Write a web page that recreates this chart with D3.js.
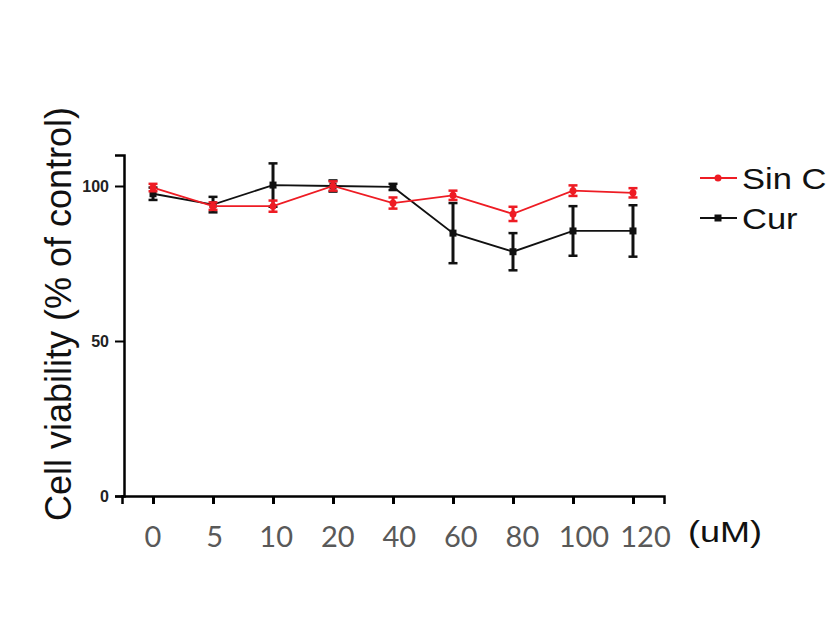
<!DOCTYPE html>
<html>
<head>
<meta charset="utf-8">
<script src="https://cdn.jsdelivr.net/npm/d3@7"></script>
<style>
  body { margin: 0; background: #fff; }
  #chart-container { width: 830px; height: 623px; }
</style>
</head>
<body>
<div id="chart-container"></div>
<script>
const doses = ['0', '5', '10', '20', '40', '60', '80', '100', '120'];
const sinC = [99.5, 93.5, 93.5, 100, 94.5, 97, 91, 98.5, 97.8];
const sinCErr = [1.2, 1.2, 1.8, 1.5, 1.8, 1.5, 2.3, 1.7, 1.5];
const cur = [97.5, 94, 100.3, 100, 99.7, 84.8, 78.8, 85.5, 85.5];
const curErr = [2, 2.5, 7, 1.8, 1, 9.7, 6, 8, 8.3];
const seriesNames = ['Sin C', 'Cur'];
const yTicks = [0, 50, 100];

const series = [
    { name: seriesNames[0], values: sinC, errs: sinCErr, color: '#ee1c24', marker: 'circle' },
    { name: seriesNames[1], values: cur, errs: curErr, color: '#111111', marker: 'square' }
];

const svg = d3.select('#chart-container')
    .append('svg')
    .attr('width', 830)
    .attr('height', 623);

const xScale = d3.scalePoint()
    .domain(doses)
    .range([122, 664])
    .padding(0.517);

// tick labels in the original sit on a slightly wider spacing than the ticks
const labelScale = d3.scalePoint()
    .domain(doses)
    .range([152.5, 645]);

const yScale = d3.scaleLinear()
    .domain([0, 110])
    .range([496, 155]);

// axes
const xAxis = svg.append('g')
    .attr('transform', 'translate(0,496)')
    .call(d3.axisBottom(xScale).tickSizeOuter(0).tickSize(8).tickPadding(22));
xAxis.select('.domain').attr('stroke', '#000').attr('stroke-width', 2.5);
xAxis.selectAll('.tick line').attr('stroke', '#000').attr('stroke-width', 3);
xAxis.selectAll('.tick text')
    .attr('x', d => labelScale(d) - xScale(d))
    .attr('fill', '#595959')
    .style('font-family', 'Lato, "Open Sans", sans-serif')
    .style('font-size', '29px');

const yAxis = svg.append('g')
    .attr('transform', 'translate(124,0)')
    .call(d3.axisLeft(yScale).tickValues(yTicks).tickSizeOuter(0).tickSize(9).tickPadding(6));
yAxis.select('.domain').attr('stroke', '#000').attr('stroke-width', 2.5);
yAxis.selectAll('.tick line').attr('stroke', '#000').attr('stroke-width', 2);
yAxis.selectAll('.tick text')
    .attr('fill', '#222')
    .style('font-family', '"Liberation Sans", Arial, sans-serif')
    .style('font-weight', 'bold')
    .style('font-size', '16px');

// axis titles
svg.append('text')
    .attr('transform', 'translate(71,314) rotate(-90)')
    .attr('text-anchor', 'middle')
    .style('font-family', '"Liberation Sans", Arial, sans-serif')
    .style('font-size', '36px')
    .attr('fill', '#111')
    .text('Cell viability (% of control)');

svg.append('text')
    .attr('transform', 'translate(688,542) scale(1.2,1)')
    .style('font-family', '"Liberation Sans", Arial, sans-serif')
    .style('font-size', '30px')
    .attr('fill', '#111')
    .text('(uM)');

// series
const line = d3.line()
    .x((d, i) => xScale(doses[i]))
    .y(d => yScale(d));

// draw Cur first then Sin C on top
[series[1], series[0]].forEach(s => {
    const g = svg.append('g');
    g.append('path')
        .datum(s.values)
        .attr('fill', 'none')
        .attr('stroke', s.color)
        .attr('stroke-width', 1.8)
        .attr('d', line);

    const eb = g.selectAll('.eb')
        .data(s.values.map((v, i) => ({ x: doses[i], v: v, e: s.errs[i] })))
        .enter()
        .append('g');
    eb.append('line')
        .attr('x1', d => xScale(d.x))
        .attr('x2', d => xScale(d.x))
        .attr('y1', d => yScale(d.v - d.e))
        .attr('y2', d => yScale(d.v + d.e))
        .attr('stroke', s.color)
        .attr('stroke-width', 3);
    [-1, 1].forEach(sign => {
        eb.append('line')
            .attr('x1', d => xScale(d.x) - 4.5)
            .attr('x2', d => xScale(d.x) + 4.5)
            .attr('y1', d => yScale(d.v + sign * d.e))
            .attr('y2', d => yScale(d.v + sign * d.e))
            .attr('stroke', s.color)
            .attr('stroke-width', 2.5);
    });
    if (s.marker === 'circle') {
        eb.append('circle')
            .attr('cx', d => xScale(d.x))
            .attr('cy', d => yScale(d.v))
            .attr('r', 3.5)
            .attr('fill', s.color);
    } else {
        eb.append('rect')
            .attr('x', d => xScale(d.x) - 3.5)
            .attr('y', d => yScale(d.v) - 3.5)
            .attr('width', 7)
            .attr('height', 7)
            .attr('fill', s.color);
    }
});

// legend
const legend = svg.append('g');
series.forEach((s, i) => {
    const y = 178 + i * 40;
    legend.append('line')
        .attr('x1', 700).attr('x2', 737)
        .attr('y1', y).attr('y2', y)
        .attr('stroke', s.color)
        .attr('stroke-width', 1.8);
    if (s.marker === 'circle') {
        legend.append('circle').attr('cx', 718).attr('cy', y).attr('r', 3.5).attr('fill', s.color);
    } else {
        legend.append('rect').attr('x', 714.5).attr('y', y - 3.5).attr('width', 7).attr('height', 7).attr('fill', s.color);
    }
    legend.append('text')
        .attr('transform', `translate(742,${y + 11}) scale(1.15,1)`)
        .style('font-family', '"Liberation Sans", Arial, sans-serif')
        .style('font-size', '30px')
        .attr('fill', '#111')
        .text(s.name);
});
</script>
</body>
</html>
